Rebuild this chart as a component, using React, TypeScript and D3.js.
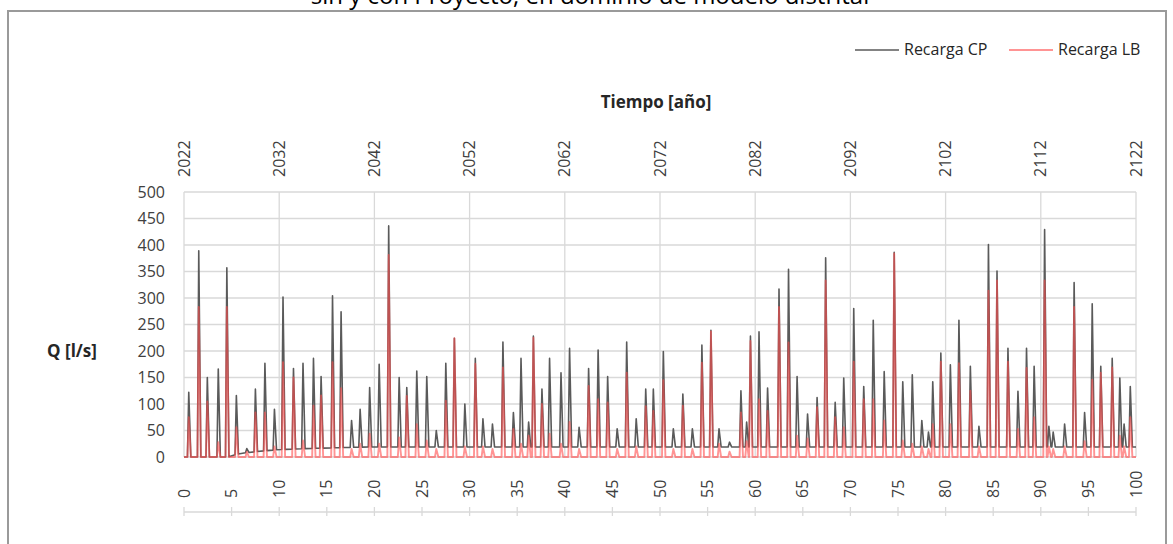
import * as d3 from 'd3'

// spike events: time [years], peak of each series [l/s]
const EVENT_T = [
  0.5, 1.55, 2.45, 3.6, 4.5, 5.5, 6.6, 7.5, 8.5, 9.5,
  10.4, 11.5, 12.5, 13.6, 14.4, 15.6, 16.5, 17.6, 18.5, 19.5,
  20.5, 21.5, 22.6, 23.4, 24.45, 25.5, 26.5, 27.5, 28.4, 29.5,
  30.6, 31.4, 32.4, 33.5, 34.6, 35.4, 36.2, 36.7, 37.6, 38.4,
  39.6, 40.5, 41.5, 42.5, 43.5, 44.5, 45.5, 46.5, 47.5, 48.5,
  49.3, 50.35, 51.4, 52.4, 53.4, 54.4, 55.35, 56.2, 57.3, 58.5,
  59.1, 59.5, 60.4, 61.3, 62.5, 63.5, 64.4, 65.5, 66.5, 67.4,
  68.4, 69.3, 70.35, 71.4, 72.4, 73.55, 74.6, 75.5, 76.5, 77.5,
  78.2, 78.65, 79.5, 80.5, 81.4, 82.6, 83.5, 84.5, 85.4, 86.55,
  87.6, 88.5, 89.3, 90.4, 90.85, 91.3, 92.5, 93.5, 94.6, 95.4,
  96.3, 97.5, 98.3, 98.75, 99.4,
]
const CP_PEAK = [
  122, 389, 150, 166, 357, 116, 16, 128, 177, 90,
  302, 167, 177, 186, 152, 304, 274, 69, 90, 131,
  175, 436, 150, 131, 162, 152, 50, 177, 224, 100,
  186, 72, 62, 217, 84, 186, 66, 228, 128, 186,
  159, 205, 56, 167, 202, 152, 53, 217, 72, 128,
  128, 199, 53, 119, 53, 211, 239, 53, 28, 125,
  66, 228, 236, 130, 317, 354, 152, 81, 112, 376,
  103, 149, 280, 133, 258, 161, 386, 142, 155, 69,
  47, 142, 196, 174, 258, 171, 58, 401, 351, 205,
  124, 205, 171, 429, 58, 47, 62, 329, 84, 289,
  171, 186, 149, 62, 133,
]
const LB_PEAK = [
  75, 283, 105, 28, 283, 56, 10, 84, 84, 20,
  179, 150, 31, 97, 116, 179, 130, 15, 25, 44,
  25, 381, 37, 115, 62, 31, 15, 106, 224, 20,
  176, 20, 15, 169, 53, 25, 40, 225, 100, 44,
  25, 66, 15, 134, 109, 103, 15, 159, 20, 96,
  87, 145, 15, 97, 15, 178, 237, 25, 10, 84,
  30, 219, 109, 87, 283, 216, 40, 35, 94, 333,
  75, 56, 180, 109, 109, 69, 384, 31, 25, 20,
  15, 62, 180, 62, 177, 125, 20, 314, 333, 180,
  53, 168, 75, 333, 20, 15, 20, 283, 30, 146,
  159, 169, 40, 20, 75,
]
// slow base flow of "Recarga CP" between the events
const CP_BASE_T = [0, 4.6, 5.5, 6.5, 8, 10, 13, 17, 20, 100]
const CP_BASE_V = [0, 0, 5, 8, 11, 14, 16, 18, 19, 19]

const Y_TICKS = [0, 50, 100, 150, 200, 250, 300, 350, 400, 450, 500]
const X_TICKS = d3.range(0, 101, 5)
const YEAR_TICKS = d3.range(0, 101, 10)
const START_YEAR = 2022

const W = 1173
const H = 544
const PLOT = { left: 184, right: 1136, top: 192, bottom: 457 }
const FONT = "'Open Sans', 'Liberation Sans', sans-serif"
const CP_COLOR = '#5a5a5a'
const LB_COLOR = '#ff4d4d'

function buildSeries(peaks: number[], base: (t: number) => number) {
  const pts: [number, number][] = [[0, base(0)]]
  EVENT_T.forEach((t, i) => {
    pts.push([t - 0.14, base(t - 0.14)], [t, peaks[i]], [t + 0.22, base(t + 0.22)])
  })
  pts.push([100, base(100)])
  return pts.sort((a, b) => a[0] - b[0])
}

export default function App() {
  const x = d3.scaleLinear().domain([0, 100]).range([PLOT.left, PLOT.right])
  const y = d3.scaleLinear().domain([0, 500]).range([PLOT.bottom, PLOT.top])
  const cpBase = d3.scaleLinear().domain(CP_BASE_T).range(CP_BASE_V).clamp(true)

  const cp = buildSeries(CP_PEAK, t => cpBase(t))
  const lb = buildSeries(LB_PEAK, () => 0)
  const line = d3.line<[number, number]>().x(d => x(d[0])).y(d => y(d[1]))

  const axisY = 512

  return (
    <svg width={W} height={H} style={{ position: 'absolute', left: 0, top: 0, background: '#fff' }}>
      <rect x={0} y={0} width={W} height={H} fill="#fff" />
      {/* chart title, cut by the top edge as in the source */}
      <text x={590} y={4} textAnchor="middle" fontFamily={FONT} fontSize={24} fill="#000">
        sin y con Proyecto, en dominio de modelo distrital
      </text>
      <rect x={8} y={11} width={1158} height={620} fill="#fff" stroke="#9a9a9a" strokeWidth={2} />

      {/* legend */}
      <line x1={855} x2={899} y1={50} y2={50} stroke={CP_COLOR} strokeWidth={1.5} />
      <text x={904} y={55} fontFamily={FONT} fontSize={16} fill="#262626">Recarga CP</text>
      <line x1={1009} x2={1053} y1={50} y2={50} stroke={LB_COLOR} strokeOpacity={0.6} strokeWidth={1.8} />
      <text x={1058} y={55} fontFamily={FONT} fontSize={16} fill="#262626">Recarga LB</text>

      {/* top axis (years) */}
      <text x={656} y={108} textAnchor="middle" fontFamily={FONT} fontSize={17} fontWeight="bold" fill="#262626">
        Tiempo [año]
      </text>
      {YEAR_TICKS.map(t => (
        <text key={t} transform={`translate(${x(t)},177) rotate(-90)`} dy="0.35em"
          fontFamily={FONT} fontSize={16} fill="#404040">{START_YEAR + t}</text>
      ))}

      {/* grid */}
      {Y_TICKS.map(v => (
        <line key={v} x1={PLOT.left} x2={PLOT.right} y1={y(v)} y2={y(v)} stroke="#d9d9d9" strokeWidth={1.3} />
      ))}
      {YEAR_TICKS.map(t => (
        <line key={t} x1={x(t)} x2={x(t)} y1={PLOT.top} y2={PLOT.bottom} stroke="#d9d9d9" strokeWidth={1.3} />
      ))}

      {/* y axis */}
      {Y_TICKS.map(v => (
        <text key={v} x={165} y={y(v)} dy="0.35em" textAnchor="end" fontFamily={FONT} fontSize={16} fill="#404040">{v}</text>
      ))}
      <text x={72} y={351} dy="0.35em" textAnchor="middle" fontFamily={FONT} fontSize={17} fontWeight="bold" fill="#262626">
        Q [l/s]
      </text>

      {/* series */}
      <path d={line(cp) ?? ''} fill="none" stroke={CP_COLOR} strokeWidth={1.6} strokeLinejoin="round" />
      <path d={line(lb) ?? ''} fill="none" stroke={LB_COLOR} strokeOpacity={0.6} strokeWidth={1.9} strokeLinejoin="round" />

      {/* bottom axis */}
      <line x1={PLOT.left} x2={PLOT.right} y1={axisY} y2={axisY} stroke="#d9d9d9" strokeWidth={1.3} />
      {X_TICKS.map(t => (
        <g key={t}>
          <line x1={x(t)} x2={x(t)} y1={axisY - 5} y2={axisY + 4} stroke="#d9d9d9" strokeWidth={1.3} />
          <text transform={`translate(${x(t)},498) rotate(-90)`} dy="0.35em"
            fontFamily={FONT} fontSize={16} fill="#404040">{t}</text>
        </g>
      ))}
    </svg>
  )
}
